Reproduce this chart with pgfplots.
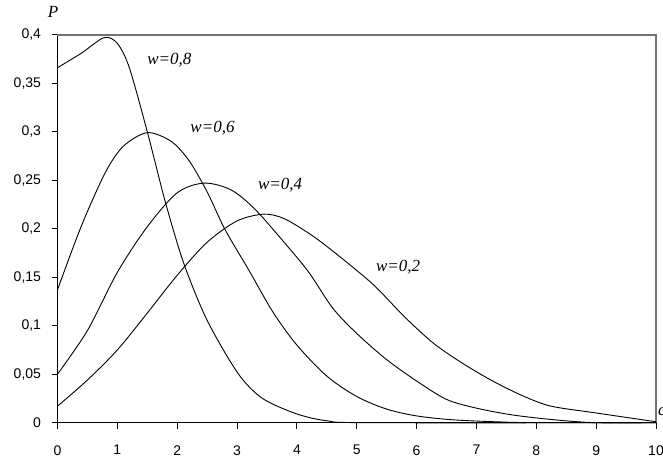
\documentclass[border=0pt]{standalone}
\usepackage{fontspec}
\setmainfont{Liberation Sans}
\newfontfamily\lab{Liberation Serif}
\usepackage{pgfplots}
\usepackage{pgfplotstable}
\pgfplotsset{compat=1.18}
\definecolor{frameg}{RGB}{115,115,115}

% curves, x = c, y = P
\pgfplotstableread{
x y
0 0.366
0.4 0.381
0.78 0.397
1.0 0.391
1.2 0.366
1.5 0.300
1.8 0.228
2.1 0.166
2.45 0.112
2.8 0.072
3.1 0.044
3.45 0.024
4.0 0.009
4.5 0.002
5.2 0.000
10 0.000
}\curveA
\pgfplotstableread{
x y
0 0.137
0.4 0.203
0.8 0.258
1.1 0.285
1.5 0.299
1.9 0.290
2.2 0.270
2.5 0.238
2.8 0.199
3.2 0.157
3.6 0.114
4.0 0.080
4.5 0.048
5.0 0.027
5.5 0.014
6.0 0.007
6.6 0.003
7.3 0.001
8.0 0.000
10 0.000
}\curveB
\pgfplotstableread{
x y
0 0.050
0.5 0.095
1.0 0.155
1.5 0.202
2.0 0.237
2.45 0.247
2.9 0.240
3.3 0.220
3.8 0.185
4.2 0.155
4.6 0.118
5.0 0.092
5.5 0.065
6.0 0.043
6.5 0.024
7.0 0.015
7.6 0.008
8.3 0.003
9.0 0.000
10 0.000
}\curveC
\pgfplotstableread{
x y
0 0.017
0.5 0.044
1.0 0.075
1.5 0.113
2.0 0.152
2.5 0.186
3.0 0.208
3.45 0.215
3.8 0.210
4.3 0.191
4.8 0.167
5.3 0.141
5.8 0.109
6.3 0.081
6.8 0.060
7.3 0.042
7.8 0.027
8.25 0.017
9.0 0.010
10 0.001
}\curveD

\begin{document}
\begin{tikzpicture}
\begin{axis}[
    scale only axis,
    width=598.5pt,
    height=388pt,
    xmin=0, xmax=10,
    ymin=0, ymax=0.4,
    axis x line=bottom,
    axis y line=left,
    axis line style={-, black, line width=1pt},
    xtick={0,1,...,10},
    ytick={0,0.05,...,0.4},
    tick align=outside,
    major tick length=6pt,
    tick style={black, line width=1pt},
    /pgf/number format/assume math mode=true,
    /pgf/number format/use comma,
    /pgf/number format/fixed,
    /pgf/number format/precision=2,
    ticklabel style={font=\fontsize{14}{16}\selectfont},
    xticklabel style={yshift=-13pt},
    yticklabel style={xshift=-7pt},
    clip=false,
]
% grey top and right border of the plot area
\addplot [frameg, line width=2pt] coordinates {(0,0.4) (10,0.4) (10,0)};

\addplot [black, line width=0.9pt, smooth, tension=0.5] table {\curveA};
\addplot [black, line width=0.9pt, smooth, tension=0.5] table {\curveB};
\addplot [black, line width=0.9pt, smooth, tension=0.5] table {\curveC};
\addplot [black, line width=0.9pt, smooth, tension=0.5] table {\curveD};

\node [font=\lab\itshape\fontsize{17}{19}\selectfont] at (axis cs:1.87,0.374) {w=0,8};
\node [font=\lab\itshape\fontsize{17}{19}\selectfont] at (axis cs:2.59,0.304) {w=0,6};
\node [font=\lab\itshape\fontsize{17}{19}\selectfont] at (axis cs:3.72,0.245) {w=0,4};
\node [font=\lab\itshape\fontsize{17}{19}\selectfont] at (axis cs:5.69,0.160) {w=0,2};
\node [font=\lab\itshape\fontsize{17}{19}\selectfont] at ([shift={(-4.5pt,22.7pt)}]axis cs:0,0.4) {P};
\node [font=\lab\itshape\fontsize{17}{19}\selectfont, anchor=west, inner sep=0pt] at ([shift={(2pt,11pt)}]axis cs:10,0) {c};

\coordinate (O) at (axis cs:0,0);
\coordinate (TR) at (axis cs:10,0.4);
\end{axis}
\pgfresetboundingbox
\path [use as bounding box] ([shift={(-57.5pt,-36.3pt)}]O) rectangle ([shift={(7pt,34.7pt)}]TR);
\end{tikzpicture}
\end{document}
